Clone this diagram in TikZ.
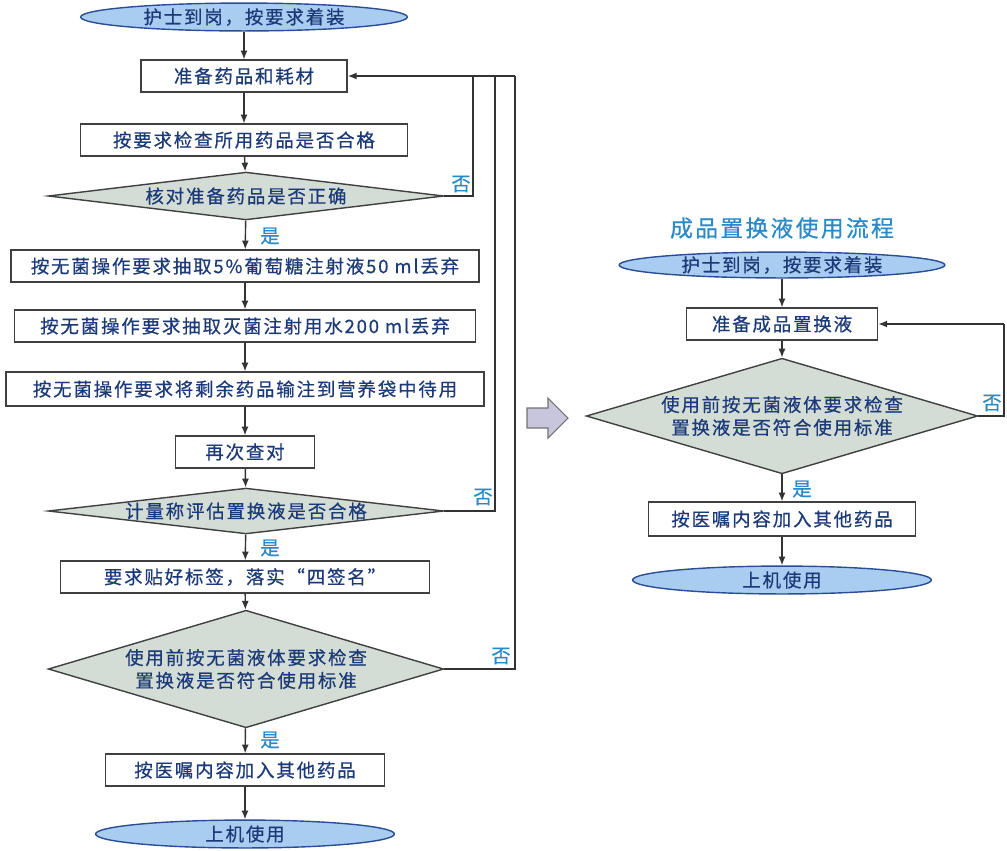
\documentclass[tikz,border=0pt]{standalone}
\usepackage{fontspec}
\setmainfont{Noto Sans CJK SC}[LetterSpace=10,FakeBold=0.6]
\usetikzlibrary{shapes.geometric,arrows.meta}
\definecolor{txt}{HTML}{1C3A78}
\definecolor{lab}{HTML}{2A8AC8}
\definecolor{ellf}{HTML}{A9CDF0}
\definecolor{elld}{HTML}{2A4E96}
\definecolor{diaf}{HTML}{D3DDD6}
\definecolor{hol}{HTML}{C8C6DC}
\begin{document}
\begin{tikzpicture}[x=0.02cm,y=-0.02cm,
  every node/.style={font=\fontsize{10.5}{13}\selectfont, text=txt},
  box/.style={draw=black!75, line width=0.8pt, fill=white, rectangle, inner sep=0pt},
  ell/.style={draw=elld, line width=0.8pt, fill=ellf, ellipse, inner sep=0pt},
  dia/.style={draw=black!75, line width=0.8pt, fill=diaf, diamond, inner sep=0pt, align=center},
  lab/.style={text=lab, font=\fontsize{11}{13}\selectfont},
  arr/.style={draw=black!80, line width=0.8pt, -{Latex[length=5pt,width=4pt]}},
  ln/.style={draw=black!80, line width=0.8pt}]
\useasboundingbox (0,0) rectangle (1007,850);
% left column
\node[ell, minimum width=328*0.567pt, minimum height=28*0.567pt] (a1) at (244,17) {护士到岗，按要求着装};
\node[box, minimum width=207*0.567pt, minimum height=32*0.567pt] (a2) at (244,76) {准备药品和耗材};
\node[box, minimum width=328*0.567pt, minimum height=32*0.567pt] (a3) at (244,140) {按要求检查所用药品是否合格};
\node[dia, aspect=8.27, minimum width=397*0.567pt, minimum height=48*0.567pt] (a4) at (246,196) {核对准备药品是否正确};
\node[box, minimum width=470*0.567pt, minimum height=32*0.567pt] (a5) at (245,266) {按无菌操作要求抽取5\%葡萄糖注射液50 ml丢弃};
\node[box, minimum width=463*0.567pt, minimum height=32*0.567pt] (a6) at (245,326) {按无菌操作要求抽取灭菌注射用水200 ml丢弃};
\node[box, minimum width=480*0.567pt, minimum height=34*0.567pt] (a7) at (245,389) {按无菌操作要求将剩余药品输注到营养袋中待用};
\node[box, minimum width=140*0.567pt, minimum height=32*0.567pt] (a8) at (245,452) {再次查对};
\node[dia, aspect=8.6, minimum width=397*0.567pt, minimum height=46*0.567pt] (a9) at (246,511) {计量称评估置换液是否合格};
\node[box, minimum width=370*0.567pt, minimum height=32*0.567pt] (a10) at (245,577) {要求贴好标签，落实“四签名”};
\node[dia, aspect=3.36, minimum width=397*0.567pt, minimum height=118*0.567pt] (a11) at (246,669) {使用前按无菌液体要求检查\\置换液是否符合使用标准};
\node[box, minimum width=280*0.567pt, minimum height=32*0.567pt] (a12) at (245,770) {按医嘱内容加入其他药品};
\node[ell, minimum width=300*0.567pt, minimum height=28*0.567pt] (a13) at (245,834) {上机使用};
\foreach \p/\q in {a1/a2,a2/a3,a3/a4,a4/a5,a5/a6,a6/a7,a7/a8,a8/a9,a9/a10,a10/a11,a11/a12,a12/a13}
  \draw[arr] (\p) -- (\q);
\node[lab] at (270,236) {是};
\node[lab] at (270,548) {是};
\node[lab] at (270,740) {是};
\coordinate (j1) at (473,196); \coordinate (j2) at (495,511); \coordinate (j3) at (515,669);
\draw[ln] (a4.east) -- (j1) -- (473,76);
\draw[ln] (a9.east) -- (j2) -- (495,76);
\draw[ln] (a11.east) -- (j3) -- (515,76);
\draw[arr] (515,76) -- (a2.east);
\node[lab] at (461,184) {否};
\node[lab] at (483,497) {否};
\node[lab] at (501,656) {否};
% arrow between
\draw[fill=hol, draw=black!55, line width=0.6pt] (527,408) -- (548,408) -- (548,398) -- (568,418) -- (548,438) -- (548,428) -- (527,428) -- cycle;
% right column
\node[text=lab, font=\fontsize{13}{15}\selectfont] (t) at (782,228) {成品置换液使用流程};
\node[ell, minimum width=327*0.567pt, minimum height=26*0.567pt] (b1) at (782,265) {护士到岗，按要求着装};
\node[box, minimum width=192*0.567pt, minimum height=32*0.567pt] (b2) at (782,324) {准备成品置换液};
\node[dia, aspect=3.39, minimum width=393*0.567pt, minimum height=116*0.567pt] (b3) at (782,416) {使用前按无菌液体要求检查\\置换液是否符合使用标准};
\node[box, minimum width=268*0.567pt, minimum height=34*0.567pt] (b4) at (782,519) {按医嘱内容加入其他药品};
\node[ell, minimum width=300*0.567pt, minimum height=28*0.567pt] (b5) at (782,580) {上机使用};
\foreach \p/\q in {b1/b2,b2/b3,b3/b4,b4/b5} \draw[arr] (\p) -- (\q);
\node[lab] at (802,489) {是};
\coordinate (k1) at (1004,416);
\draw[ln] (b3.east) -- (k1) -- (1004,324);
\draw[arr] (1004,324) -- (b2.east);
\node[lab] at (992,403) {否};
\end{tikzpicture}
\end{document}
